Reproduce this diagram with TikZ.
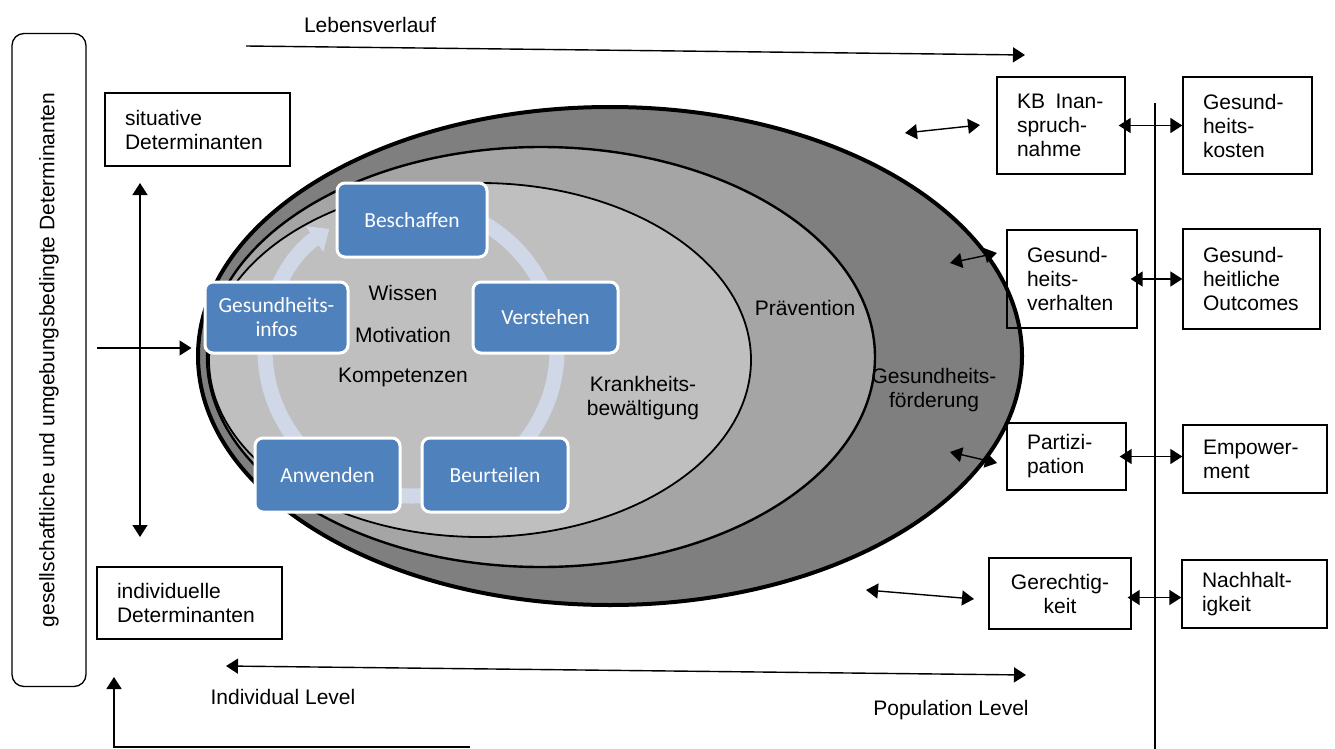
\documentclass[tikz,border=0pt]{standalone}
\usepackage{fontspec}
\setmainfont{Liberation Sans}
\newfontfamily\calfont{Carlito}
\usetikzlibrary{arrows.meta, calc}
\definecolor{hfouter}{HTML}{7F7F7F}
\definecolor{hfmid}{HTML}{A5A5A5}
\definecolor{hfinner}{HTML}{BFBFBF}
\definecolor{cycblue}{HTML}{4F81BD}
\definecolor{cycring}{HTML}{D0D8E8}

\tikzset{
  detbox/.style={draw, line width=1.3pt, align=left, inner xsep=20pt, inner ysep=0pt},
  cycbox/.style={draw=white, line width=3pt, fill=cycblue, rounded corners=8pt,
    text=white, align=center, inner sep=0pt, font=\calfont\fontsize{21.5}{24}\selectfont},
  dblarrow/.style={line width=1.4pt, >={Triangle[length=12pt,width=15pt]}, <->},
  onearrow/.style={line width=1.4pt, >={Triangle[length=12pt,width=15pt]}, ->},
}

\begin{document}
\begin{tikzpicture}[x=1pt, y=-1pt, font=\fontsize{21}{24}\selectfont]
  \useasboundingbox (0,0) rectangle (1335,749);

  \fill[white] (0,0) rectangle (1335,749);

  % Ellipsen
  \draw[fill=hfouter, line width=4pt] (610,356) ellipse [x radius=412pt, y radius=249pt];
  \draw[fill=hfmid, line width=2.4pt] (541,357) ellipse [x radius=334pt, y radius=210pt];
  \draw[fill=hfinner, line width=1.8pt] (480,360) ellipse [x radius=271pt, y radius=177pt];

  % Kreislauf
  \coordinate (cyc) at (411,350);
  \draw[cycring, line width=15pt, -{Triangle[length=18pt,width=30pt]}]
    ([shift={(95:146pt)}]cyc) arc[start angle=95, end angle=-236, radius=146pt];

  \node[cycbox, minimum width=150pt, minimum height=74pt] (besch) at (412,220) {Beschaffen};
  \node[cycbox, minimum width=145pt, minimum height=71pt] (verst) at (545.5,317.5) {Verstehen};
  \node[cycbox, minimum width=146pt, minimum height=74pt] (beur) at (495,475) {Beurteilen};
  \node[cycbox, minimum width=145pt, minimum height=74pt] (anw) at (327.5,475) {Anwenden};
  \node[cycbox, minimum width=143pt, minimum height=71pt] (info) at (276.5,317.5) {Gesundheits-\\infos};

  \node (wissen) at (403,293) {Wissen};
  \node (motiv) at (403,335) {Motivation};
  \node (kompet) at (403,377) {Kompetenzen};
  \node[align=center] (krank) at (643,398) {Krankheits-\\bewältigung};
  \node (praev) at (805,308) {Prävention};
  \node[align=center] (foerd) at (934,390) {Gesundheits-\\förderung};

  % linke Seite
  \node[draw, line width=1.3pt, rounded corners=12pt, rotate=90,
        minimum width=653pt, minimum height=74pt, inner sep=0pt] (gesell) at (49,360)
        {gesellschaftliche und umgebungsbedingte Determinanten};
  \node[detbox, minimum width=185pt, minimum height=73pt, text width=145pt] (sit) at (197.5,129.5)
        {situative\\Determinanten};
  \node[detbox, minimum width=185pt, minimum height=72pt, text width=145pt] (ind) at (189.5,603)
        {individuelle\\Determinanten};

  \coordinate (va) at (140,183);
  \coordinate (vb) at (140,537);
  \draw[dblarrow] (va) -- (vb);
  \coordinate (hs) at (97,348);
  \draw[onearrow, shorten >=12pt] (hs) -- (hs -| info.west);

  % Achsen
  \node (lv) at (370,25) {Lebensverlauf};
  \coordinate (lva) at (246,46);
  \coordinate (lvb) at (1025,55);
  \draw[onearrow] (lva) -- (lvb);

  \coordinate (pla) at (226,666);
  \coordinate (plb) at (1026,675);
  \draw[dblarrow] (pla) -- (plb);
  \node (indl) at (283,697) {Individual Level};
  \node (popl) at (951,710) {Population Level};

  \coordinate (ls) at (470,747);
  \coordinate (le) at (114,677);
  \draw[onearrow, line width=1.8pt] (ls) -| (le);

  % rechte Seite
  \coordinate (div1) at (1155,103);
  \coordinate (div2) at (1155,749);
  \draw[line width=1.5pt] (div1) -- (div2);

  \node[detbox, minimum width=128pt, minimum height=97pt, text width=88pt] (kb) at (1061,125.5)
        {KB\enspace Inan-\\spruch-\\nahme};
  \node[detbox, minimum width=129pt, minimum height=97pt, text width=89pt] (kost) at (1247.5,125.5)
        {Gesund-\\heits-\\kosten};
  \node[detbox, minimum width=130pt, minimum height=98pt, text width=90pt] (verh) at (1072,279)
        {Gesund-\\heits-\\verhalten};
  \node[detbox, minimum width=137pt, minimum height=100pt, text width=97pt] (outc) at (1251.5,279)
        {Gesund-\\heitliche\\Outcomes};
  \node[detbox, minimum width=119pt, minimum height=67pt, text width=79pt] (part) at (1066.5,456.5)
        {Partizi-\\pation};
  \node[detbox, minimum width=144pt, minimum height=68pt, text width=104pt] (emp) at (1255,459)
        {Empower-\\ment};
  \node[detbox, align=center, minimum width=142pt, minimum height=71pt, text width=102pt] (ger) at (1060,593.5)
        {Gerechtig-\\keit};
  \node[detbox, minimum width=145pt, minimum height=68pt, text width=105pt] (nach) at (1254.5,594)
        {Nachhalt-\\igkeit};

  \draw[dblarrow, shorten <=-7pt] (kb.east) -- (kb.east -| kost.west);
  \draw[dblarrow, shorten <=-7pt] (verh.east) -- (verh.east -| outc.west);
  \draw[dblarrow, shorten <=-7pt] (part.east) -- (part.east -| emp.west);
  \draw[dblarrow, shorten <=-4pt] ($(ger.east)+(0,4)$) -- ($(ger.east -| nach.west)+(0,4)$);

  \coordinate (a1) at (905,133);
  \coordinate (b1) at (980,125);
  \coordinate (a2) at (950,263);
  \coordinate (b2) at (997,253);
  \coordinate (a3) at (950,452);
  \coordinate (b3) at (997,463);
  \coordinate (a4) at (866,590);
  \coordinate (b4) at (974,599);
  \draw[dblarrow] (a1) -- (b1);
  \draw[dblarrow] (a2) -- (b2);
  \draw[dblarrow] (a3) -- (b3);
  \draw[dblarrow] (a4) -- (b4);
\end{tikzpicture}
\end{document}
